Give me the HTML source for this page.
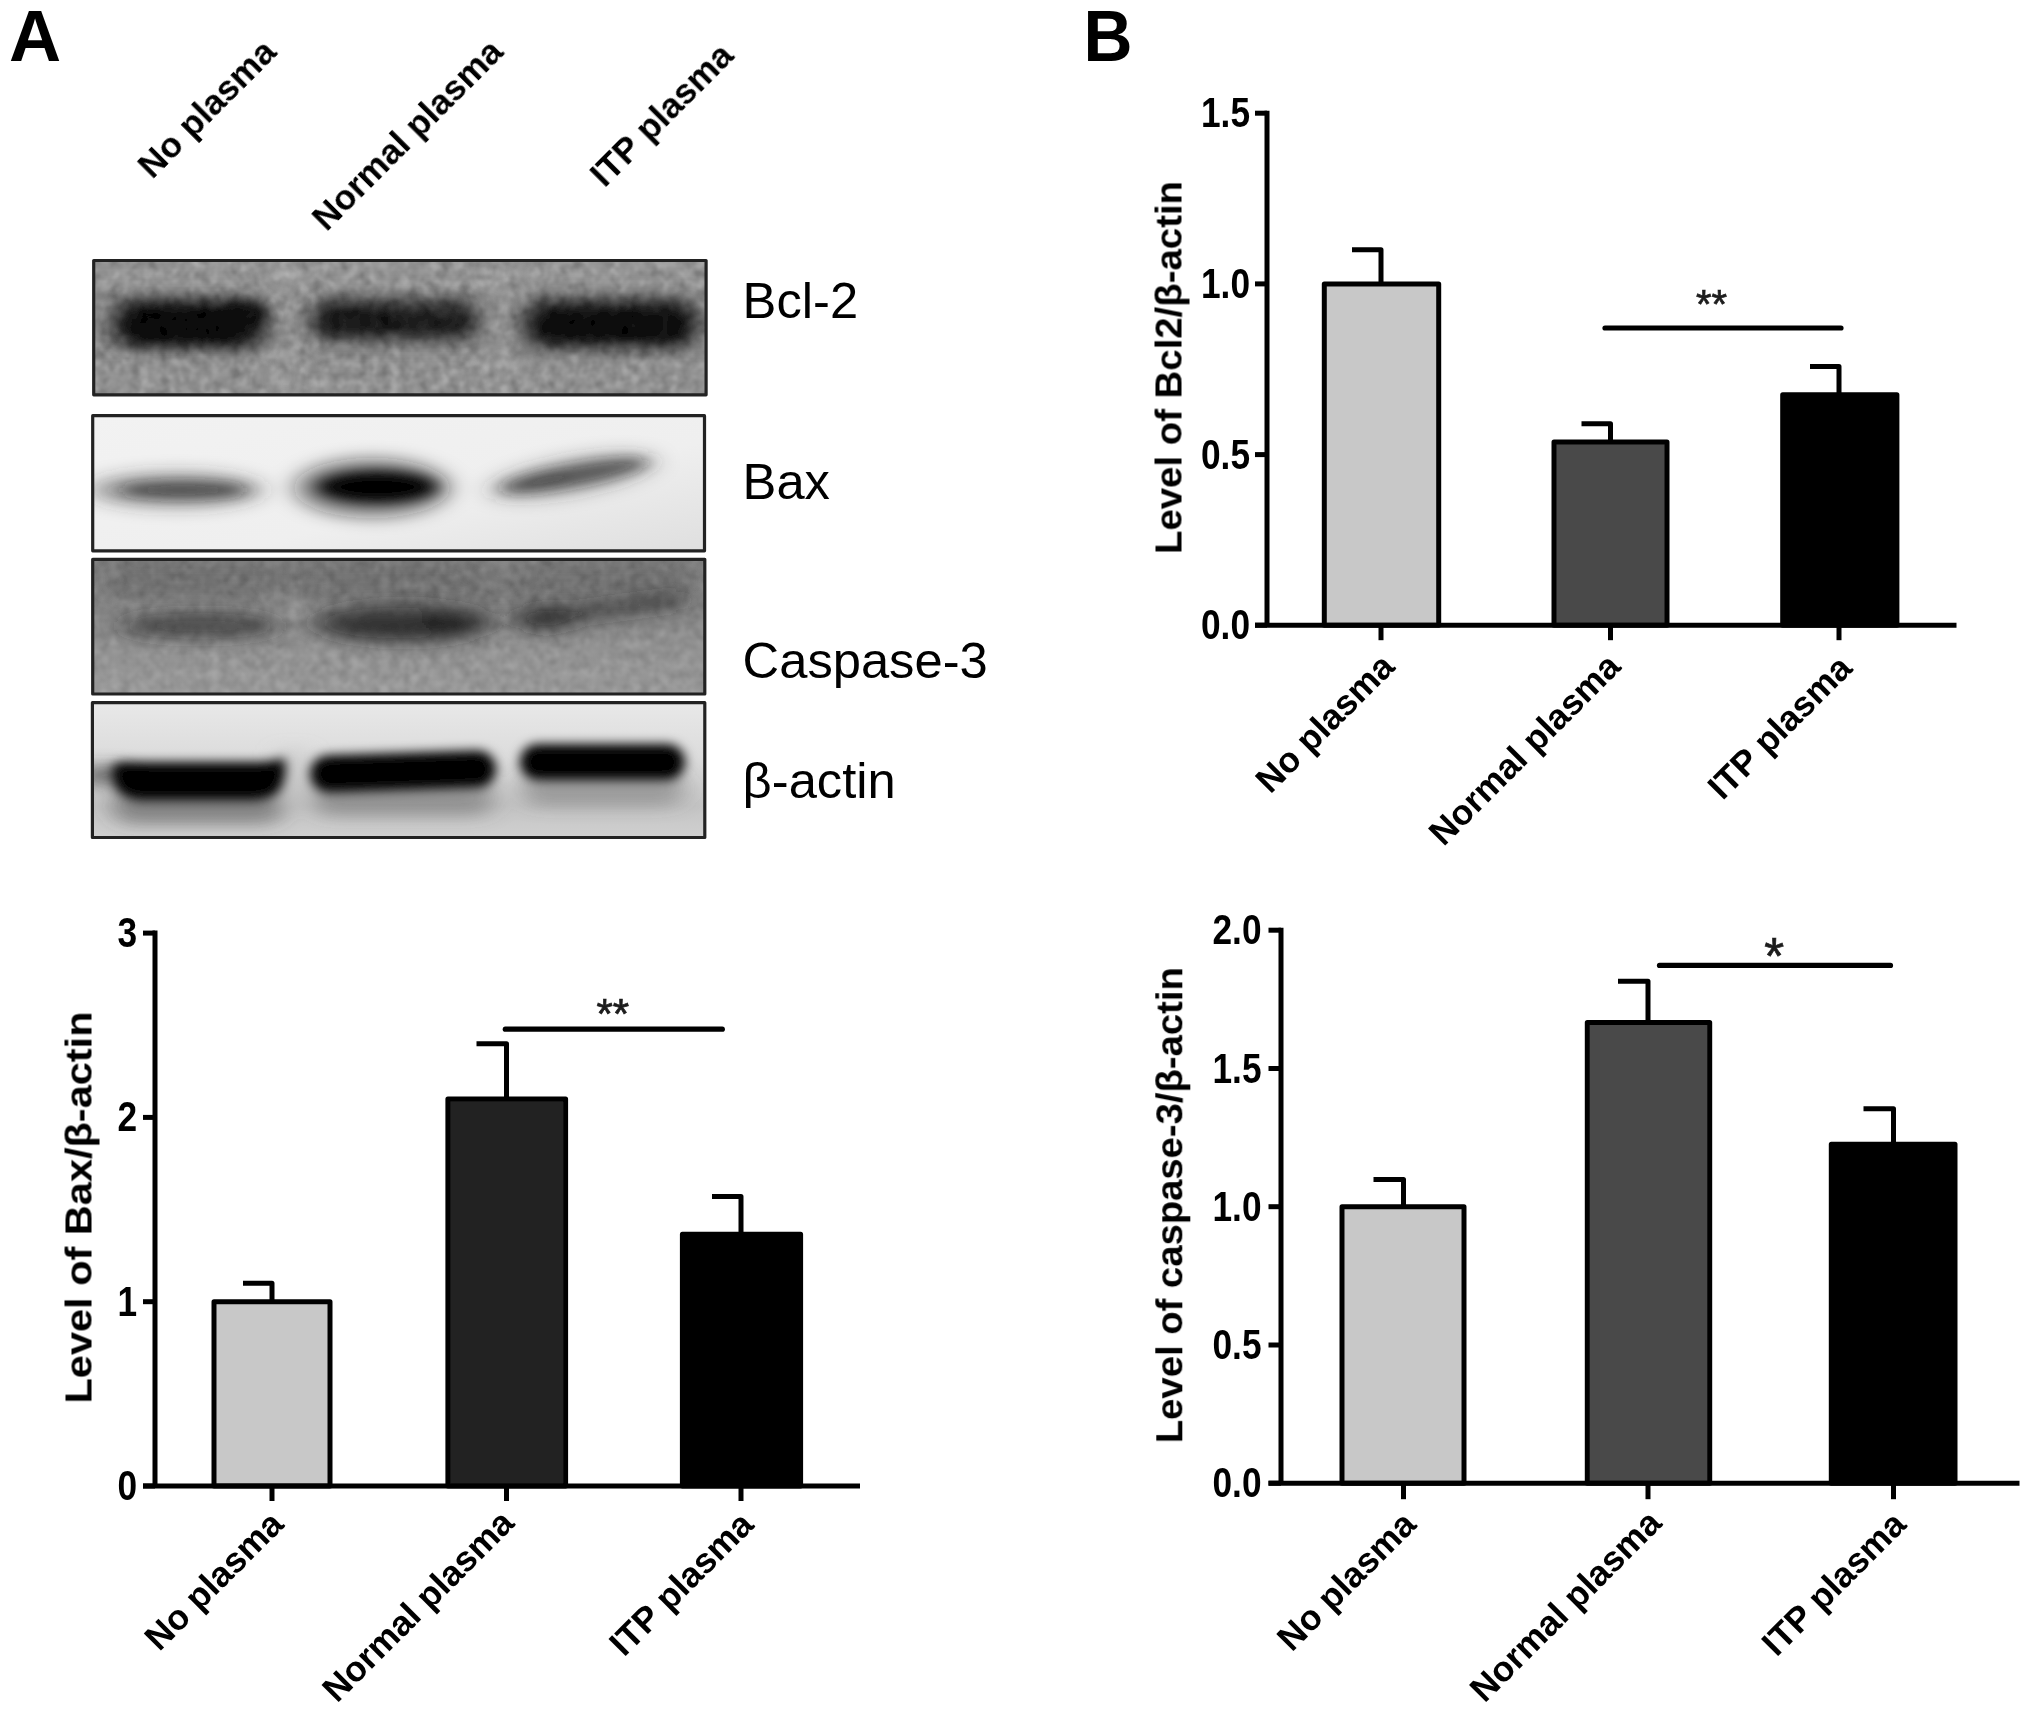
<!DOCTYPE html>
<html lang="en">
<head>
<meta charset="utf-8">
<title>Figure</title>
<style>
html,body{margin:0;padding:0;background:#fff;}
body{width:2031px;height:1716px;overflow:hidden;}
svg{display:block;font-family:"Liberation Sans", Arial, Helvetica, sans-serif;}
text{font-family:"Liberation Sans", Arial, Helvetica, sans-serif;}
</style>
</head>
<body>
<svg width="2031" height="1716" viewBox="0 0 2031 1716">
<defs>
<filter id="b4" x="-20%" y="-60%" width="140%" height="220%"><feGaussianBlur stdDeviation="7 5"/></filter>
<filter id="b6" x="-20%" y="-80%" width="140%" height="260%"><feGaussianBlur stdDeviation="9 6"/></filter>
<filter id="b8" x="-20%" y="-80%" width="140%" height="260%"><feGaussianBlur stdDeviation="12 8"/></filter>
<filter id="soft" x="-2%" y="-2%" width="104%" height="104%"><feGaussianBlur stdDeviation="0.7"/></filter>
<filter id="noise" x="0" y="0" width="100%" height="100%" color-interpolation-filters="sRGB">
<feTurbulence type="fractalNoise" baseFrequency="0.1" numOctaves="2" seed="7" result="n"/>
<feColorMatrix in="n" type="matrix" values="1.0 1.0 0 0 -0.5  1.0 1.0 0 0 -0.5  1.0 1.0 0 0 -0.5  0 0 0 0 1" result="m"/>
<feGaussianBlur in="m" stdDeviation="1.1"/>
</filter>
<filter id="b5v" x="-20%" y="-80%" width="140%" height="260%"><feGaussianBlur stdDeviation="6 5.5"/></filter>
<linearGradient id="g2" x1="0" y1="0" x2="1" y2="1"><stop offset="0" stop-color="#f2f2f2" stop-opacity="1"/><stop offset="0.6" stop-color="#efefef" stop-opacity="1"/><stop offset="1" stop-color="#dedede" stop-opacity="1"/></linearGradient>
<clipPath id="c1"><rect x="93" y="260" width="613.5" height="135.5"/></clipPath>
<clipPath id="c2"><rect x="92" y="415" width="613" height="136.5"/></clipPath>
<clipPath id="c3"><rect x="92" y="558.6" width="613.5" height="136"/></clipPath>
<clipPath id="c4"><rect x="91.7" y="702" width="613.8" height="136.2"/></clipPath>
<linearGradient id="g3" x1="0" y1="0" x2="0" y2="1"><stop offset="0" stop-color="#808080"/><stop offset="0.4" stop-color="#868686"/><stop offset="0.7" stop-color="#969696"/><stop offset="1" stop-color="#9c9c9c"/></linearGradient>
<linearGradient id="g4" x1="0" y1="0" x2="0" y2="1"><stop offset="0" stop-color="#e9e9e9"/><stop offset="0.4" stop-color="#dcdcdc"/><stop offset="0.75" stop-color="#c4c4c4"/><stop offset="1" stop-color="#d2d2d2"/></linearGradient>
</defs>
<rect width="2031" height="1716" fill="#fff"/>
<g filter="url(#soft)">

<text x="9.1" y="61.2" font-size="72.2" font-weight="bold" fill="#000">A</text>
<text transform="translate(1083.5 61.2) scale(0.94 1)" font-size="72.2" font-weight="bold" fill="#000">B</text>
<text transform="translate(152.3 180) rotate(-45)" font-size="35.2" font-weight="bold" fill="#050505">No plasma</text>
<text transform="translate(326.5 232.3) rotate(-45)" font-size="35.2" font-weight="bold" fill="#050505">Normal plasma</text>
<text transform="translate(604.5 188.5) rotate(-45)" font-size="35.2" font-weight="bold" fill="#050505">ITP plasma</text>
<g clip-path="url(#c1)">
<rect x="90" y="257" width="620" height="141" fill="#8a8a8a"/>
<g filter="url(#b8)">
<rect x="60" y="250" width="680" height="40" rx="0" fill="#a0a0a0" opacity="0.75" />
<rect x="60" y="356" width="680" height="54" rx="0" fill="#9a9a9a" opacity="0.75" />
<rect x="274" y="262" width="24" height="134" rx="0" fill="#a6a6a6" opacity="0.8" />
<rect x="488" y="262" width="24" height="134" rx="0" fill="#a2a2a2" opacity="0.8" />
</g>
<rect x="90" y="257" width="620" height="141" filter="url(#noise)" opacity="0.14"/>
<g filter="url(#b6)">
<rect x="108" y="296" width="164" height="55" rx="27.5" fill="#000" opacity="0.6" />
<rect x="306" y="296" width="176" height="47" rx="23.5" fill="#000" opacity="0.5" />
<rect x="519" y="296" width="183" height="55" rx="27.5" fill="#000" opacity="0.58" />
</g>
<g filter="url(#b4)">
<rect x="124" y="307" width="128" height="35" rx="17.5" fill="#000" opacity="1" />
<rect x="222" y="303" width="44" height="24" rx="12.0" fill="#000" opacity="0.8" />
<rect x="320" y="307" width="72" height="27" rx="13.5" fill="#000" opacity="0.72" />
<rect x="380" y="309" width="90" height="24" rx="12.0" fill="#000" opacity="0.66" />
<rect x="535" y="308" width="153" height="33" rx="16.5" fill="#000" opacity="0.92" />
<rect x="560" y="315" width="110" height="23" rx="11.5" fill="#000" opacity="0.5" />
</g>
<rect x="90" y="257" width="620" height="141" filter="url(#noise)" opacity="0.07"/>
</g>
<rect x="93.7" y="260.5" width="612.4" height="134.29999999999998" fill="none" stroke="#222" stroke-width="3.2" stroke-linejoin="round"/>
<g clip-path="url(#c2)">
<rect x="89" y="412" width="620" height="143" fill="#eeeeee"/>
<rect x="89" y="412" width="620" height="143" fill="url(#g2)"/>
<g filter="url(#b8)">
<ellipse cx="176" cy="490" rx="88" ry="18" fill="#333" opacity="0.42" />
<ellipse cx="372" cy="488" rx="78" ry="30" fill="#1a1a1a" opacity="0.5" />
<ellipse cx="572" cy="476" rx="86" ry="19" fill="#333" opacity="0.3" transform="rotate(-10.5 572 476)"/>
</g>
<g filter="url(#b6)">
<ellipse cx="183" cy="490" rx="64" ry="8.5" fill="#1e1e1e" opacity="0.62" />
<ellipse cx="377" cy="487" rx="60" ry="16" fill="#000" opacity="0.97" />
<ellipse cx="380" cy="487" rx="44" ry="10" fill="#000" opacity="0.8" />
<ellipse cx="574" cy="475.5" rx="74" ry="10.5" fill="#222" opacity="0.6" transform="rotate(-10.5 574 475.5)"/>
<ellipse cx="540" cy="481" rx="34" ry="7" fill="#222" opacity="0.25" transform="rotate(-10.5 540 481)"/>
</g>
</g>
<rect x="92.7" y="415.7" width="611.8000000000001" height="135.1" fill="none" stroke="#222" stroke-width="3.2" stroke-linejoin="round"/>
<g clip-path="url(#c3)">
<rect x="89" y="556" width="620" height="142" fill="url(#g3)"/>
<g filter="url(#b8)">
<rect x="276" y="560" width="24" height="68" rx="0" fill="#a0a0a0" opacity="0.7" />
<ellipse cx="502" cy="572" rx="26" ry="14" fill="#a8a8a8" opacity="0.7" />
<rect x="104" y="562" width="586" height="36" rx="16" fill="#636363" opacity="0.6" />
</g>
<rect x="89" y="556" width="620" height="142" filter="url(#noise)" opacity="0.12"/>
<g filter="url(#b8)">
<ellipse cx="200" cy="626" rx="82" ry="13" fill="#222" opacity="0.62" />
<ellipse cx="404" cy="623" rx="92" ry="21" fill="#222" opacity="0.5" />
<ellipse cx="400" cy="626" rx="78" ry="12" fill="#111" opacity="0.62" />
<ellipse cx="452" cy="620" rx="34" ry="11" fill="#111" opacity="0.3" />
<path d="M530 620 L676 600" stroke="#222" stroke-width="17" fill="none" opacity="0.55" stroke-linecap="round"/>
<ellipse cx="546" cy="618" rx="32" ry="13" fill="#1a1a1a" opacity="0.6" />
</g>
</g>
<rect x="92.7" y="559.3000000000001" width="612.1" height="134.70000000000002" fill="none" stroke="#222" stroke-width="3.2" stroke-linejoin="round"/>
<g clip-path="url(#c4)">
<rect x="89" y="699" width="620" height="143" fill="url(#g4)"/>
<g filter="url(#b8)">
<rect x="112" y="788" width="172" height="36" rx="18.0" fill="#444" opacity="0.5" />
<rect x="312" y="780" width="182" height="36" rx="18.0" fill="#555" opacity="0.45" />
<rect x="522" y="772" width="162" height="34" rx="17.0" fill="#555" opacity="0.4" />
<rect x="80" y="766" width="50" height="18" rx="9.0" fill="#333" opacity="0.7" />
<rect x="280" y="750" width="26" height="50" rx="0" fill="#bbb" opacity="0.5" />
</g>
<g filter="url(#b5v)">
<path d="M112 770 Q112 762 126 762 L262 762 Q282 760 284 757 Q288 770 282 786 Q276 800 250 800 L140 800 Q112 798 112 770Z" fill="#000"/>
<g transform="rotate(-1.8 400 770)"><rect x="310" y="753" width="186" height="37" rx="18.5" fill="#000" opacity="1" /></g>
<rect x="520" y="744" width="165" height="36" rx="18.0" fill="#000" opacity="1" />
</g>
</g>
<rect x="92.4" y="702.7" width="612.4" height="134.80000000000004" fill="none" stroke="#222" stroke-width="3.2" stroke-linejoin="round"/>
<text x="742.6" y="318" font-size="50.7" fill="#050505">Bcl-2</text>
<text x="742.6" y="498.5" font-size="50.7" fill="#050505">Bax</text>
<text x="742.6" y="678" font-size="50.7" fill="#050505">Caspase-3</text>
<text x="742.6" y="798.2" font-size="50.7" fill="#050505">β-actin</text>
<rect x="214" y="1301.7" width="116" height="184.29999999999995" fill="#c8c8c8" stroke="#050505" stroke-width="5" stroke-linejoin="round"/>
<path d="M243 1283.3 H272 V1301.7" fill="none" stroke="#050505" stroke-width="5" stroke-linecap="butt" stroke-linejoin="round"/>
<rect x="447.9" y="1099.0" width="117.70000000000005" height="387.0" fill="#222" stroke="#050505" stroke-width="5" stroke-linejoin="round"/>
<path d="M476.5 1043.7 H506.5 V1099.0" fill="none" stroke="#050505" stroke-width="5" stroke-linecap="butt" stroke-linejoin="round"/>
<rect x="682.4" y="1234.2" width="118.20000000000005" height="251.79999999999995" fill="#000" stroke="#050505" stroke-width="5" stroke-linejoin="round"/>
<path d="M712 1196.6 H741 V1234.2" fill="none" stroke="#050505" stroke-width="5" stroke-linecap="butt" stroke-linejoin="round"/>
<path d="M155 930.6 V1486" stroke="#050505" stroke-width="5" fill="none"/>
<path d="M143 1486 H860" stroke="#050505" stroke-width="5" fill="none"/>
<path d="M143 933.1 H155" stroke="#050505" stroke-width="5" fill="none"/>
<text transform="translate(137 947.1) scale(0.82 1)" text-anchor="end" font-size="43" font-weight="bold" fill="#050505">3</text>
<path d="M143 1117.4 H155" stroke="#050505" stroke-width="5" fill="none"/>
<text transform="translate(137 1131.4) scale(0.82 1)" text-anchor="end" font-size="43" font-weight="bold" fill="#050505">2</text>
<path d="M143 1301.7 H155" stroke="#050505" stroke-width="5" fill="none"/>
<text transform="translate(137 1315.7) scale(0.82 1)" text-anchor="end" font-size="43" font-weight="bold" fill="#050505">1</text>
<path d="M143 1486.0 H155" stroke="#050505" stroke-width="5" fill="none"/>
<text transform="translate(137 1500.0) scale(0.82 1)" text-anchor="end" font-size="43" font-weight="bold" fill="#050505">0</text>
<path d="M272 1486 V1501" stroke="#050505" stroke-width="5" fill="none"/>
<text transform="translate(285.4 1526) rotate(-45)" text-anchor="end" font-size="35.3" font-weight="bold" fill="#050505">No plasma</text>
<path d="M506.5 1486 V1501" stroke="#050505" stroke-width="5" fill="none"/>
<text transform="translate(516.0 1524.9) rotate(-45)" text-anchor="end" font-size="35.3" font-weight="bold" fill="#050505">Normal plasma</text>
<path d="M741 1486 V1501" stroke="#050505" stroke-width="5" fill="none"/>
<text transform="translate(755.4 1526.5) rotate(-45)" text-anchor="end" font-size="35.3" font-weight="bold" fill="#050505">ITP plasma</text>
<path d="M505.3 1029.2 H722.3" stroke="#050505" stroke-width="5.2" stroke-linecap="round" fill="none"/>
<text x="612.8" y="1028.4" text-anchor="middle" font-size="42" font-weight="normal" fill="#1c1c1c" stroke="#1c1c1c" stroke-width="0.7">**</text>
<text transform="translate(91.5 1207.5) rotate(-90)" text-anchor="middle" font-size="36" font-weight="bold" fill="#050505" textLength="392" lengthAdjust="spacingAndGlyphs">Level of Bax/β-actin</text>
<rect x="1324.3" y="283.9" width="114.40000000000009" height="341.30000000000007" fill="#c8c8c8" stroke="#050505" stroke-width="5" stroke-linejoin="round"/>
<path d="M1352 249.8 H1381 V283.9" fill="none" stroke="#050505" stroke-width="5" stroke-linecap="butt" stroke-linejoin="round"/>
<rect x="1554" y="441.9" width="113" height="183.30000000000007" fill="#4a4a4a" stroke="#050505" stroke-width="5" stroke-linejoin="round"/>
<path d="M1581.5 423.7 H1610.5 V441.9" fill="none" stroke="#050505" stroke-width="5" stroke-linecap="butt" stroke-linejoin="round"/>
<rect x="1782.7" y="394.7" width="114.20000000000005" height="230.50000000000006" fill="#000" stroke="#050505" stroke-width="5" stroke-linejoin="round"/>
<path d="M1810 366.5 H1839 V394.7" fill="none" stroke="#050505" stroke-width="5" stroke-linecap="butt" stroke-linejoin="round"/>
<path d="M1267 110.7 V625.2" stroke="#050505" stroke-width="5" fill="none"/>
<path d="M1255 625.2 H1956.5" stroke="#050505" stroke-width="5" fill="none"/>
<path d="M1255 113.2 H1267" stroke="#050505" stroke-width="5" fill="none"/>
<text transform="translate(1250 127.2) scale(0.82 1)" text-anchor="end" font-size="43" font-weight="bold" fill="#050505">1.5</text>
<path d="M1255 283.9 H1267" stroke="#050505" stroke-width="5" fill="none"/>
<text transform="translate(1250 297.9) scale(0.82 1)" text-anchor="end" font-size="43" font-weight="bold" fill="#050505">1.0</text>
<path d="M1255 454.6 H1267" stroke="#050505" stroke-width="5" fill="none"/>
<text transform="translate(1250 468.6) scale(0.82 1)" text-anchor="end" font-size="43" font-weight="bold" fill="#050505">0.5</text>
<path d="M1255 625.2 H1267" stroke="#050505" stroke-width="5" fill="none"/>
<text transform="translate(1250 639.2) scale(0.82 1)" text-anchor="end" font-size="43" font-weight="bold" fill="#050505">0.0</text>
<path d="M1381 625.2 V640.2" stroke="#050505" stroke-width="5" fill="none"/>
<text transform="translate(1396.4 668.5) rotate(-45)" text-anchor="end" font-size="35.3" font-weight="bold" fill="#050505">No plasma</text>
<path d="M1610.5 625.2 V640.2" stroke="#050505" stroke-width="5" fill="none"/>
<text transform="translate(1622.4 668.3) rotate(-45)" text-anchor="end" font-size="35.3" font-weight="bold" fill="#050505">Normal plasma</text>
<path d="M1839 625.2 V640.2" stroke="#050505" stroke-width="5" fill="none"/>
<text transform="translate(1853.9 670.0) rotate(-45)" text-anchor="end" font-size="35.3" font-weight="bold" fill="#050505">ITP plasma</text>
<path d="M1605.0 328 H1841.0" stroke="#050505" stroke-width="5.2" stroke-linecap="round" fill="none"/>
<text x="1711.6" y="318.4" text-anchor="middle" font-size="40" font-weight="normal" fill="#1c1c1c" stroke="#1c1c1c" stroke-width="0.7">**</text>
<text transform="translate(1181.5 367.5) rotate(-90)" text-anchor="middle" font-size="36" font-weight="bold" fill="#050505" textLength="373" lengthAdjust="spacingAndGlyphs">Level of Bcl2/β-actin</text>
<rect x="1342" y="1206.7" width="122" height="276.5" fill="#c8c8c8" stroke="#050505" stroke-width="5" stroke-linejoin="round"/>
<path d="M1373.5 1179.5 H1403.5 V1206.7" fill="none" stroke="#050505" stroke-width="5" stroke-linecap="butt" stroke-linejoin="round"/>
<rect x="1587.3" y="1022.6" width="122.40000000000009" height="460.6" fill="#4a4a4a" stroke="#050505" stroke-width="5" stroke-linejoin="round"/>
<path d="M1618 981.2 H1648 V1022.6" fill="none" stroke="#050505" stroke-width="5" stroke-linecap="butt" stroke-linejoin="round"/>
<rect x="1831.3" y="1144.3" width="123.70000000000005" height="338.9000000000001" fill="#000" stroke="#050505" stroke-width="5" stroke-linejoin="round"/>
<path d="M1863.5 1108.7 H1893.5 V1144.3" fill="none" stroke="#050505" stroke-width="5" stroke-linecap="butt" stroke-linejoin="round"/>
<path d="M1281 927.7 V1483.2" stroke="#050505" stroke-width="5" fill="none"/>
<path d="M1268.5 1483.2 H2019.5" stroke="#050505" stroke-width="5" fill="none"/>
<path d="M1268.5 930.2 H1281" stroke="#050505" stroke-width="5" fill="none"/>
<text transform="translate(1261.5 944.2) scale(0.82 1)" text-anchor="end" font-size="43" font-weight="bold" fill="#050505">2.0</text>
<path d="M1268.5 1068.5 H1281" stroke="#050505" stroke-width="5" fill="none"/>
<text transform="translate(1261.5 1082.5) scale(0.82 1)" text-anchor="end" font-size="43" font-weight="bold" fill="#050505">1.5</text>
<path d="M1268.5 1206.7 H1281" stroke="#050505" stroke-width="5" fill="none"/>
<text transform="translate(1261.5 1220.7) scale(0.82 1)" text-anchor="end" font-size="43" font-weight="bold" fill="#050505">1.0</text>
<path d="M1268.5 1345.0 H1281" stroke="#050505" stroke-width="5" fill="none"/>
<text transform="translate(1261.5 1359.0) scale(0.82 1)" text-anchor="end" font-size="43" font-weight="bold" fill="#050505">0.5</text>
<path d="M1268.5 1483.2 H1281" stroke="#050505" stroke-width="5" fill="none"/>
<text transform="translate(1261.5 1497.2) scale(0.82 1)" text-anchor="end" font-size="43" font-weight="bold" fill="#050505">0.0</text>
<path d="M1403.5 1483.2 V1499.2" stroke="#050505" stroke-width="5" fill="none"/>
<text transform="translate(1417.9 1526.4) rotate(-45)" text-anchor="end" font-size="35.3" font-weight="bold" fill="#050505">No plasma</text>
<path d="M1648 1483.2 V1499.2" stroke="#050505" stroke-width="5" fill="none"/>
<text transform="translate(1663.4 1524.9) rotate(-45)" text-anchor="end" font-size="35.3" font-weight="bold" fill="#050505">Normal plasma</text>
<path d="M1893.5 1483.2 V1499.2" stroke="#050505" stroke-width="5" fill="none"/>
<text transform="translate(1907.9 1526.4) rotate(-45)" text-anchor="end" font-size="35.3" font-weight="bold" fill="#050505">ITP plasma</text>
<path d="M1659.5 965.4 H1890.5" stroke="#050505" stroke-width="5.2" stroke-linecap="round" fill="none"/>
<text x="1774.3" y="973.6" text-anchor="middle" font-size="51" font-weight="normal" fill="#1c1c1c" stroke="#1c1c1c" stroke-width="0.7">*</text>
<text transform="translate(1182.3 1205.2) rotate(-90)" text-anchor="middle" font-size="36" font-weight="bold" fill="#050505" textLength="476" lengthAdjust="spacingAndGlyphs">Level of caspase-3/β-actin</text>
</g>
</svg>
</body>
</html>
